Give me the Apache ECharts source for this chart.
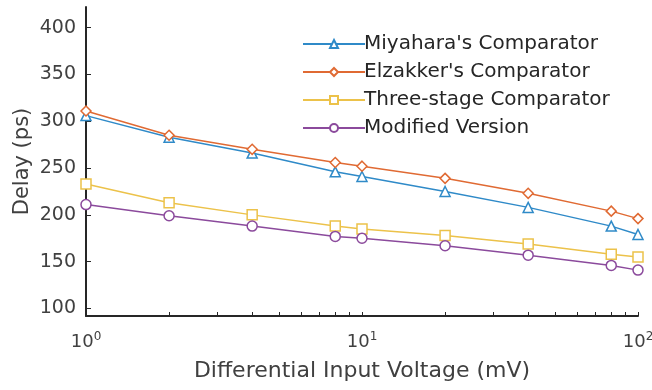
<!DOCTYPE html>
<html>
<head>
<meta charset="utf-8">
<script src="https://cdn.jsdelivr.net/npm/echarts@6/dist/echarts.min.js"></script>
<style>
html, body { margin: 0; padding: 0; background: #fff; }
#chart { width: 652px; height: 390px; }
</style>
</head>
<body>
<div id="chart"></div>
<script>
// input voltage (mV)
var voltages = [1, 2, 4, 8, 10, 20, 40, 80, 100];
// delay (ps)
var miyahara = [306, 283, 266, 246, 241, 225, 208, 188, 179];
var elzakker = [311, 285, 270, 256, 252, 239, 223, 204, 196];
var threeStage = [233, 213, 200, 188, 185, 178, 169, 158, 155];
var modified = [211, 199, 188, 177, 175, 167, 157, 146, 141];

var seriesNames = ["Miyahara's Comparator", "Elzakker's Comparator", 'Three-stage Comparator', 'Modified Version'];
var yTicks = [100, 150, 200, 250, 300, 350, 400];
var xLabels = [1, 10, 100];
var xTicks = [2, 3, 4, 5, 6, 7, 8, 9, 10, 20, 30, 40, 50, 60, 70, 80, 90, 100];

function pairs(ys) {
    return voltages.map(function (v, i) { return [v, ys[i]]; });
}

function makeSeries(name, ys, color, symbol) {
    return {
        name: name,
        type: 'line',
        data: pairs(ys),
        symbol: symbol,
        symbolSize: 10,
        showAllSymbol: true,
        lineStyle: { color: color, width: 1.5 },
        itemStyle: { color: '#fff', borderColor: color, borderWidth: 1.5 },
        color: color
    };
}

var font = 'DejaVu Sans';
var axisColor = '#262626';
var textColor = '#404040';
var myChart = echarts.init(document.getElementById('chart'));
myChart.setOption({
    animation: false,
    grid: { left: 86, right: 14, top: 7, bottom: 74, outerBoundsMode: 'none', containLabel: false },
    legend: {
        orient: 'vertical',
        left: 297,
        top: 29,
        itemWidth: 62,
        itemHeight: 10,
        itemGap: 8,
        textStyle: { fontFamily: font, fontSize: 20, color: '#262626', padding: [0, 0, 0, -6] },
        data: seriesNames
    },
    xAxis: {
        type: 'log',
        logBase: 10,
        min: 1,
        max: 100,
        name: 'Differential Input Voltage (mV)',
        nameLocation: 'middle',
        nameGap: 44,
        nameMoveOverlap: false,
        nameTextStyle: { fontFamily: font, fontSize: 22, color: textColor },
        axisLine: { lineStyle: { color: axisColor, width: 2 } },
        axisTick: { inside: true, length: 4, customValues: xTicks, lineStyle: { color: axisColor } },
        axisLabel: {
            customValues: xLabels,
            margin: 15,
            formatter: function (v) {
                return '{b|10}{s|' + Math.round(Math.log10(v)) + '}';
            },
            rich: {
                b: { fontFamily: font, fontSize: 18, color: textColor },
                s: { fontFamily: font, fontSize: 12, color: textColor, padding: [0, 0, 10, 0] }
            }
        },
        splitLine: { show: false }
    },
    yAxis: {
        type: 'value',
        min: 92,
        max: 422,
        name: 'Delay (ps)',
        nameLocation: 'middle',
        nameGap: 53,
        nameMoveOverlap: false,
        nameTextStyle: { fontFamily: font, fontSize: 21, color: textColor },
        axisLine: { show: true, lineStyle: { color: axisColor, width: 2 } },
        axisTick: { show: true, inside: true, length: 5, customValues: yTicks, lineStyle: { color: axisColor } },
        axisLabel: {
            customValues: yTicks,
            margin: 10,
            fontFamily: font,
            fontSize: 19,
            color: textColor
        },
        splitLine: { show: false }
    },
    series: [
        makeSeries(seriesNames[0], miyahara, '#2f8ac8', 'triangle'),
        makeSeries(seriesNames[1], elzakker, '#e06a33', 'diamond'),
        makeSeries(seriesNames[2], threeStage, '#ecc24a', 'rect'),
        makeSeries(seriesNames[3], modified, '#8b4a9c', 'circle')
    ]
});
</script>
</body>
</html>
